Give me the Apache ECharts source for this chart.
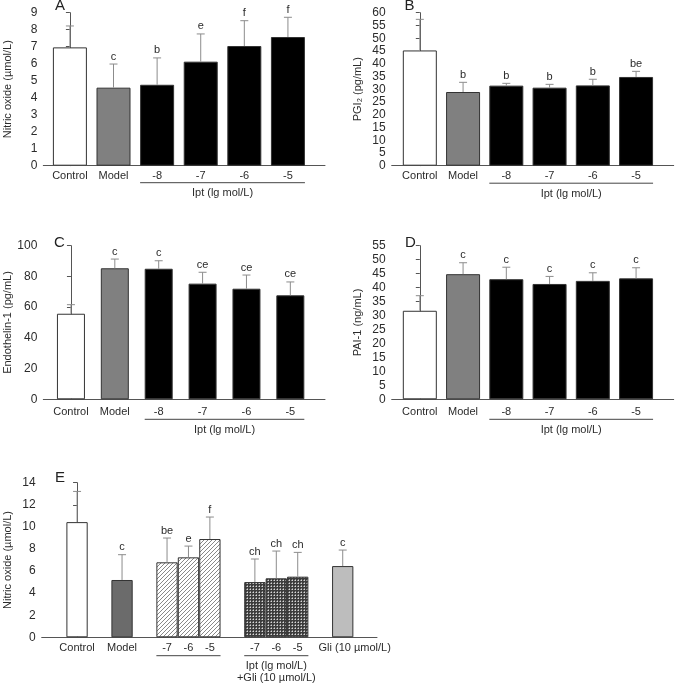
<!DOCTYPE html>
<html>
<head>
<meta charset="utf-8">
<script src="https://cdn.jsdelivr.net/npm/echarts@6.0.0/dist/echarts.min.js"></script>
<style>
html,body{margin:0;padding:0;background:#fff;}
#c{width:675px;height:685px;}
</style>
</head>
<body>
<div id="c"></div>
<script>
// ---------- DATA ----------
const catsIpt = ['Control', 'Model', '-8', '-7', '-6', '-5'];

const noMean = [6.96, 4.59, 4.76, 6.12, 7.04, 7.57];
const noSD = [1.26, 1.39, 1.58, 1.63, 1.49, 1.16];
const noLetters = ['', 'c', 'b', 'e', 'f', 'f'];

const pgiMean = [45.2, 28.9, 31.4, 30.6, 31.5, 34.8];
const pgiSD = [12.2, 3.8, 0.9, 1.3, 2.4, 2.2];
const pgiLetters = ['', 'b', 'b', 'b', 'b', 'be'];

const etMean = [55.7, 85.3, 85.0, 75.3, 72.0, 67.7];
const etSD = [5.9, 6.0, 5.2, 7.4, 8.9, 8.7];
const etLetters = ['', 'c', 'c', 'ce', 'ce', 'ce'];

const paiMean = [31.7, 44.8, 43.0, 41.3, 42.4, 43.3];
const paiSD = [5.4, 4.1, 4.3, 2.7, 2.9, 3.8];
const paiLetters = ['', 'c', 'c', 'c', 'c', 'c'];

const catsE = ['Control', 'Model', '-7', '-6', '-5', '-7', '-6', '-5', 'Gli (10 µmol/L)'];
const eMean = [10.43, 5.19, 6.79, 7.24, 8.90, 5.00, 5.34, 5.49, 6.45];
const eSD = [2.78, 2.29, 2.20, 1.02, 1.99, 2.09, 2.47, 2.20, 1.45];
const eLetters = ['', 'c', 'be', 'e', 'f', 'ch', 'ch', 'ch', 'c'];

const groupLabelIpt = ['Ipt (lg mol/L)'];
const groupLabelE = ['Ipt (lg mol/L)', '+Gli (10 µmol/L)'];

// ---------- STYLE / LAYOUT ----------
const FONT = "'Liberation Sans', Arial, sans-serif";
const TXT = '#2b2b2b';
const AX = '#555';

function makePattern(kind) {
  const c = document.createElement('canvas');
  if (kind === 'hatch') {
    c.width = 4; c.height = 4;
    const g = c.getContext('2d');
    g.fillStyle = '#fff'; g.fillRect(0, 0, 4, 4);
    g.strokeStyle = '#7a7a7a'; g.lineWidth = 0.9;
    g.beginPath();
    g.moveTo(-1, 5); g.lineTo(5, -1);
    g.moveTo(-1, 1); g.lineTo(1, -1);
    g.moveTo(3, 5); g.lineTo(5, 3);
    g.stroke();
  } else {
    c.width = 3; c.height = 3;
    const g = c.getContext('2d');
    g.fillStyle = '#3c3c3c'; g.fillRect(0, 0, 3, 3);
    g.fillStyle = '#d8d8d8'; g.fillRect(1, 1, 1, 1);
    g.fillStyle = '#8a8a8a'; g.fillRect(0, 1, 1, 1); g.fillRect(1, 0, 1, 1);
  }
  return { image: c, repeat: 'repeat' };
}
const hatch = makePattern('hatch');
const cross = makePattern('cross');

const fillsIpt = ['#ffffff', '#808080', '#000', '#000', '#000', '#000'];
const fillsE = ['#ffffff', '#6b6b6b', hatch, hatch, hatch, cross, cross, cross, '#bdbdbd'];

// bar slot positions (layout)
const posIpt = [0, 1, 2, 3, 4, 5];
const posE = [0, 2.1, 4.2, 5.2, 6.2, 8.3, 9.3, 10.3, 12.4];

const panels = [
  { letter: 'A', lx: 61, ly: 6,
    grid: { left: 43.3, top: 12.7, width: 281.7, height: 153 },
    xmin: -0.61, xmax: 5.85, pos: posIpt, cats: catsIpt, mean: noMean, sd: noSD, letters: noLetters,
    fills: fillsIpt, bw: 34, ymax: 9, yint: 1, yname: 'Nitric oxide (µmol/L)', nameGap: 30,
    labelMargin: 5, brackets: [{ from: 2, to: 5, lines: groupLabelIpt, lineOff: 17, lineGap: 0 }] },
  { letter: 'B', lx: 410.5, ly: 6,
    grid: { left: 391.7, top: 12.7, width: 282, height: 153 },
    xmin: -0.65, xmax: 5.87, pos: posIpt, cats: catsIpt, mean: pgiMean, sd: pgiSD, letters: pgiLetters,
    fills: fillsIpt, bw: 34, ymax: 60, yint: 5, yname: 'PGI₂ (pg/mL)', nameGap: 28,
    labelMargin: 5, brackets: [{ from: 2, to: 5, lines: groupLabelIpt, lineOff: 17.5, lineGap: 0 }] },
  { letter: 'C', lx: 60, ly: 243,
    grid: { left: 43.3, top: 245.7, width: 281.7, height: 153.6 },
    xmin: -0.63, xmax: 5.79, pos: posIpt, cats: catsIpt, mean: etMean, sd: etSD, letters: etLetters,
    fills: fillsIpt, bw: 28, ymax: 100, yint: 20, yname: 'Endothelin-1 (pg/mL)', nameGap: 30,
    labelMargin: 7, brackets: [{ from: 2, to: 5, lines: groupLabelIpt, lineOff: 20, lineGap: 0 }] },
  { letter: 'D', lx: 411, ly: 243,
    grid: { left: 391.7, top: 245.7, width: 282, height: 153.6 },
    xmin: -0.65, xmax: 5.87, pos: posIpt, cats: catsIpt, mean: paiMean, sd: paiSD, letters: paiLetters,
    fills: fillsIpt, bw: 34, ymax: 55, yint: 5, yname: 'PAI-1 (ng/mL)', nameGap: 28,
    labelMargin: 7, brackets: [{ from: 2, to: 5, lines: groupLabelIpt, lineOff: 20, lineGap: 0 }] },
  { letter: 'E', lx: 61, ly: 478.5,
    grid: { left: 41.7, top: 482.7, width: 335.3, height: 154.6 },
    xmin: -1.65, xmax: 14.0, pos: posE, cats: catsE, mean: eMean, sd: eSD, letters: eLetters,
    fills: fillsE, bw: 21.3, ymax: 14, yint: 2, yname: 'Nitric oxide (µmol/L)', nameGap: 28.5,
    labelMargin: 5, brackets: [
      { from: 2, to: 4, lines: [], lineOff: 18.4, lineGap: 0 },
      { from: 5, to: 7, lines: groupLabelE, lineOff: 18.4, lineGap: 11.6 }
    ] }
];

const grids = [], xAxes = [], yAxes = [], series = [], graphics = [];

panels.forEach((p, k) => {
  grids.push(Object.assign({ containLabel: false }, p.grid));
  xAxes.push({
    type: 'value', gridIndex: k, min: p.xmin, max: p.xmax,
    axisLine: { show: true, lineStyle: { color: AX, width: 1 } },
    axisTick: { show: false },
    splitLine: { show: false },
    axisLabel: {
      customValues: p.pos,
      margin: p.labelMargin,
      color: TXT, fontSize: 11, fontFamily: FONT,
      formatter: function (v) {
        let best = 0, bd = 1e9;
        p.pos.forEach((q, i) => { const d = Math.abs(q - v); if (d < bd) { bd = d; best = i; } });
        const t = p.cats[best];
        return t.length > 10 ? '{g|' + t + '}' : t;
      },
      rich: { g: { color: TXT, fontSize: 11, fontFamily: FONT, padding: [0, 0, 0, 24] } }
    }
  });
  yAxes.push({
    type: 'value', gridIndex: k, min: 0, max: p.ymax, interval: p.yint,
    name: p.yname, nameLocation: 'middle', nameGap: p.nameGap,
    nameTextStyle: { color: TXT, fontSize: 11, fontFamily: FONT },
    axisLine: { show: true, lineStyle: { color: AX, width: 1 } },
    axisTick: { show: true, length: 4, lineStyle: { color: AX } },
    splitLine: { show: false },
    axisLabel: { color: TXT, fontSize: 12, fontFamily: FONT, margin: 6 }
  });
  series.push({
    type: 'bar', xAxisIndex: k, yAxisIndex: k, barWidth: p.bw,
    silent: true, animation: false,
    data: p.mean.map((v, i) => ({
      value: [p.pos[i], v],
      itemStyle: { color: p.fills[i], borderColor: '#333', borderWidth: 1 }
    }))
  });
  series.push({
    type: 'custom', xAxisIndex: k, yAxisIndex: k, silent: true, animation: false,
    encode: { x: 0, y: [1, 2] }, z: 3,
    data: p.mean.map((v, i) => [p.pos[i], v, v + p.sd[i], i]),
    renderItem: function (params, api) {
      const b = api.coord([api.value(0), api.value(1)]);
      const t = api.coord([api.value(0), api.value(2)]);
      const i = api.value(3);
      return {
        type: 'group',
        children: [
          { type: 'line', shape: { x1: b[0], y1: b[1], x2: t[0], y2: t[1] }, style: { stroke: '#8c8c8c', lineWidth: 1 } },
          { type: 'line', shape: { x1: t[0] - 4, y1: t[1], x2: t[0] + 4, y2: t[1] }, style: { stroke: '#8c8c8c', lineWidth: 1 } },
          { type: 'text', style: { text: p.letters[i], x: t[0], y: t[1] - 2, align: 'center', verticalAlign: 'bottom', fill: TXT, font: '11px ' + FONT } }
        ]
      };
    }
  });
  series.push({
    type: 'custom', xAxisIndex: k, yAxisIndex: k, silent: true, animation: false, clip: false,
    encode: { x: [0, 1] },
    data: p.brackets.map((br, j) => [p.pos[br.from], p.pos[br.to], j]),
    renderItem: function (params, api) {
      const br = p.brackets[api.value(2)];
      const a = api.coord([api.value(0), 0]);
      const c = api.coord([api.value(1), 0]);
      const x1 = a[0] - p.bw / 2, x2 = c[0] + p.bw / 2;
      const y = a[1] + br.lineOff;
      const ch = [{ type: 'line', shape: { x1: x1, y1: y, x2: x2, y2: y }, style: { stroke: '#444', lineWidth: 1 } }];
      br.lines.forEach((ln, m) => {
        ch.push({ type: 'text', style: { text: ln, x: (x1 + x2) / 2, y: y + 5 + m * br.lineGap, align: 'center', verticalAlign: 'top', fill: TXT, font: '11px ' + FONT } });
      });
      return { type: 'group', children: ch };
    }
  });
  graphics.push({ type: 'text', left: p.lx - 6, top: p.ly - 8, style: { text: p.letter, fill: '#222', font: '15px ' + FONT } });
});

const chart = echarts.init(document.getElementById('c'), null, { renderer: 'canvas' });
chart.setOption({
  animation: false,
  backgroundColor: '#fff',
  grid: grids,
  xAxis: xAxes,
  yAxis: yAxes,
  series: series,
  graphic: graphics
});
</script>
</body>
</html>
